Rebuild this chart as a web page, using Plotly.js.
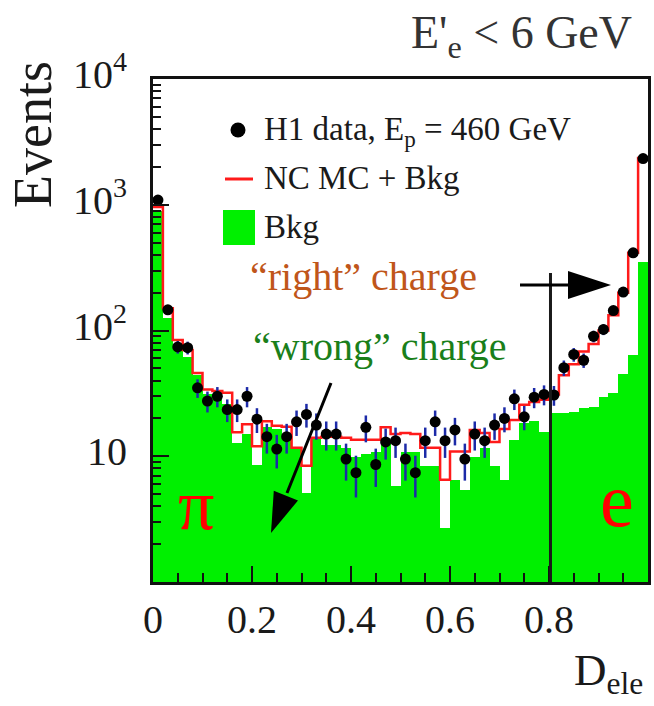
<!DOCTYPE html>
<html>
<head>
<meta charset="utf-8">
<script src="https://cdn.plot.ly/plotly-3.0.1.min.js"></script>
<style>
  html, body { margin: 0; padding: 0; background: #fff; }
  #chart { width: 654px; height: 706px; }
</style>
</head>
<body>
<div id="chart"></div>
<script>
// D_ele distribution, 50 bins of width 0.02 between 0 and 1
const binWidth = 0.02;
const nBins = 50;

// H1 data (events per bin) and their uncertainties
const dataEvents = [
  1090, 146, 74, 73, 35, 27.5, 30, 23.5, 23.5, 30,
  19.7, 14.3, 11.4, 14.3, 18.8, 21.5, 17.7, 15, 15, 9.5,
  7.4, 17, 8.6, 13, 13.3, 9.5, 7.4, 13.3, 18.8, 13.3,
  16.2, 9.5, 15, 13.3, 17.7, 20, 28.6, 20.6, 29.5, 31,
  30.7, 50.6, 64.5, 58, 90, 102, 144, 202, 415, 2330
];
const dataErrors = [
  33, 12, 8.5, 8.5, 5.9, 5.2, 5.5, 4.8, 4.8, 5.5,
  4.4, 3.8, 3.4, 3.8, 4.3, 4.6, 4.2, 3.9, 3.9, 3.1,
  2.7, 4.1, 2.9, 3.6, 3.6, 3.1, 2.7, 3.6, 4.3, 3.6,
  4.0, 3.1, 3.9, 3.6, 4.2, 4.5, 5.3, 4.5, 5.4, 5.6,
  5.5, 7.1, 8.0, 7.6, 9.5, 10.1, 12, 14.2, 20.4, 48
];

// NC MC + background prediction
const mcEvents = [
  960, 150, 84, 70, 46, 34, 33, 32, 15.5, 18,
  12, 19, 17.5, 17.2, 11.7, 8.4, 14, 14.3, 14.3, 14,
  13.5, 13.5, 13.5, 17, 15, 15.3, 15, 11.7, 11.7, 6.5,
  10.9, 10.9, 16.2, 15.3, 13, 16.5, 19.4, 25.7, 27, 28.2,
  31, 44, 54, 68, 78, 100, 132, 200, 415, 2350
];

// background only
const bkgEvents = [
  900, 125, 72, 62, 44, 31, 31, 26, 12.8, 15,
  8.5, 17, 16.5, 15, 11.6, 5.1, 13.9, 12.3, 12.3, 11.7,
  9.9, 10.5, 10.8, 12.7, 5.8, 10.9, 10.9, 8.3, 8.3, 2.7,
  6.5, 5.4, 9.9, 11.7, 8.3, 6.5, 13.5, 18.3, 19, 15.6,
  22, 22, 22.5, 24, 24.5, 29.5, 31.6, 45, 64, 352
];

// axis labels
const xTickVals = [0, 0.2, 0.4, 0.6, 0.8, 1];
const xTickText = ['0', '0.2', '0.4', '0.6', '0.8', '1'];
const yTickVals = [10, 100, 1000, 10000];
const yTickText = ['10', '10<sup>2</sup>', '10<sup>3</sup>', '10<sup>4</sup>'];

// bin centres and edges
const binCentres = [];
const binEdges = [];
for (let i = 0; i < nBins; i++) binCentres.push(+(binWidth * (i + 0.5)).toFixed(4));
for (let i = 0; i <= nBins; i++) binEdges.push(+(binWidth * i).toFixed(4));
const mcStepY = mcEvents.concat([mcEvents[mcEvents.length - 1]]);

// log-axis minor ticks 2..9 in every decade
const yMinor = [];
for (let d = 0; d < 4; d++) for (let k = 2; k <= 9; k++) yMinor.push(k * Math.pow(10, d));

// frame geometry (pixels) for placing decorations in paper coordinates
const W = 654, H = 706, ML = 153, MR = 6, MT = 79, MB = 124;
const PW = W - ML - MR, PH = H - MT - MB;
const X = px => (px - ML) / PW;
const Y = py => (H - MB - py) / PH;

const serif = '"Liberation Serif", "Times New Roman", Times, serif';
const ink = '#111111';
const green = '#00f000';

const traces = [
  {
    type: 'bar', x: binCentres, y: bkgEvents, width: binWidth,
    marker: { color: green, line: { width: 0 } },
    hoverinfo: 'x+y', showlegend: false
  },
  {
    type: 'scatter', mode: 'lines', x: binEdges, y: mcStepY,
    line: { shape: 'hv', color: '#ff1a1a', width: 2.5 },
    showlegend: false
  },
  {
    type: 'scatter', mode: 'markers', x: binCentres, y: dataEvents,
    error_y: { type: 'data', array: dataErrors, visible: true, color: '#1c2aa8', thickness: 2.5, width: 0 },
    marker: { color: '#000', size: 11 },
    showlegend: false
  }
];

function tri(p) {
  return 'M' + X(p[0][0]) + ',' + Y(p[0][1]) + ' L' + X(p[1][0]) + ',' + Y(p[1][1]) +
         ' L' + X(p[2][0]) + ',' + Y(p[2][1]) + ' Z';
}

const shapes = [
  // cut at D_ele = 0.8
  { type: 'line', xref: 'x', yref: 'paper', x0: 0.803, x1: 0.803, y0: 0, y1: Y(273),
    line: { color: '#1a1a1a', width: 3 } },
  // "right" charge arrow
  { type: 'line', xref: 'paper', yref: 'paper', x0: X(520), y0: Y(285), x1: X(572), y1: Y(285),
    line: { color: '#000', width: 3 } },
  { type: 'path', xref: 'paper', yref: 'paper', path: tri([[568, 271], [568, 299], [611, 285]]),
    fillcolor: '#000', line: { width: 0 } },
  // "wrong" charge arrow
  { type: 'line', xref: 'paper', yref: 'paper', x0: X(331), y0: Y(383), x1: X(287), y1: Y(493),
    line: { color: '#000', width: 3 } },
  { type: 'path', xref: 'paper', yref: 'paper', path: tri([[298, 500.5], [273.8, 490.8], [271, 533]]),
    fillcolor: '#000', line: { width: 0 } },
  // legend symbols
  { type: 'circle', xref: 'paper', yref: 'paper', x0: X(230.5), x1: X(245.5), y0: Y(137.5), y1: Y(122.5),
    fillcolor: '#000', line: { width: 0 } },
  { type: 'line', xref: 'paper', yref: 'paper', x0: X(225), x1: X(253), y0: Y(179), y1: Y(179),
    line: { color: '#ff1a1a', width: 3 } },
  { type: 'rect', xref: 'paper', yref: 'paper', x0: X(223), x1: X(255), y0: Y(245), y1: Y(210),
    fillcolor: green, line: { width: 0 } }
];

function txt(text, px, py, size, color, extra) {
  return Object.assign({
    text: text, xref: 'paper', yref: 'paper', x: X(px), y: Y(py),
    xanchor: 'left', yanchor: 'middle', showarrow: false,
    font: { family: serif, size: size, color: color }
  }, extra || {});
}

const annotations = [
  txt('H1 data, E<sub>p</sub> = 460 GeV', 262, 131, 33, '#1a1a1a'),
  txt('NC MC + Bkg', 262, 178, 33, '#1a1a1a'),
  txt('Bkg', 262, 227, 33, '#1a1a1a'),
  txt('\u201Cright\u201D charge', 248, 276, 40, '#c0561a'),
  txt('\u201Cwrong\u201D charge', 251, 346, 40, '#1a7f1a'),
  txt('\u03C0', 176, 505, 72, '#ff0000'),
  txt('e', 598, 500, 76, '#ff0000'),
  txt('E\'<sub>e</sub> &lt; 6 GeV', 409, 36, 46, '#333333'),
  txt('Events', 33, 135, 54, '#1a1a1a', { xanchor: 'center', textangle: -90 }),
  txt('D<sub>ele</sub>', 572, 673, 45, '#1a1a1a')
];

const layout = {
  width: W, height: H,
  margin: { l: ML, r: MR, t: MT, b: MB, pad: 0 },
  paper_bgcolor: '#fff', plot_bgcolor: '#fff',
  bargap: 0,
  showlegend: false,
  xaxis: {
    range: [0, 1], showgrid: false, zeroline: false,
    showline: true, linecolor: ink, linewidth: 3, mirror: true,
    ticks: 'inside', ticklen: 16, tickwidth: 2, tickcolor: ink,
    tickmode: 'array', tickvals: xTickVals, ticktext: xTickText,
    tickfont: { family: serif, size: 40, color: '#1a1a1a' },
    minor: { tickmode: 'linear', tick0: 0, dtick: 0.05, ticks: 'inside', ticklen: 9, tickwidth: 2, tickcolor: ink, showgrid: false }
  },
  yaxis: {
    type: 'log', range: [0, 4], showgrid: false, zeroline: false,
    showline: true, linecolor: ink, linewidth: 3, mirror: true,
    ticks: 'inside', ticklen: 16, tickwidth: 2, tickcolor: ink,
    tickmode: 'array', tickvals: yTickVals, ticktext: yTickText,
    tickfont: { family: serif, size: 40, color: '#1a1a1a' },
    ticklabelstandoff: 15,
    ticklabelshift: -5,
    minor: { tickmode: 'array', tickvals: yMinor, ticks: 'inside', ticklen: 8, tickwidth: 2, tickcolor: ink, showgrid: false }
  },
  shapes: shapes,
  annotations: annotations
};

Plotly.newPlot('chart', traces, layout, { staticPlot: true, displayModeBar: false });
</script>
</body>
</html>
